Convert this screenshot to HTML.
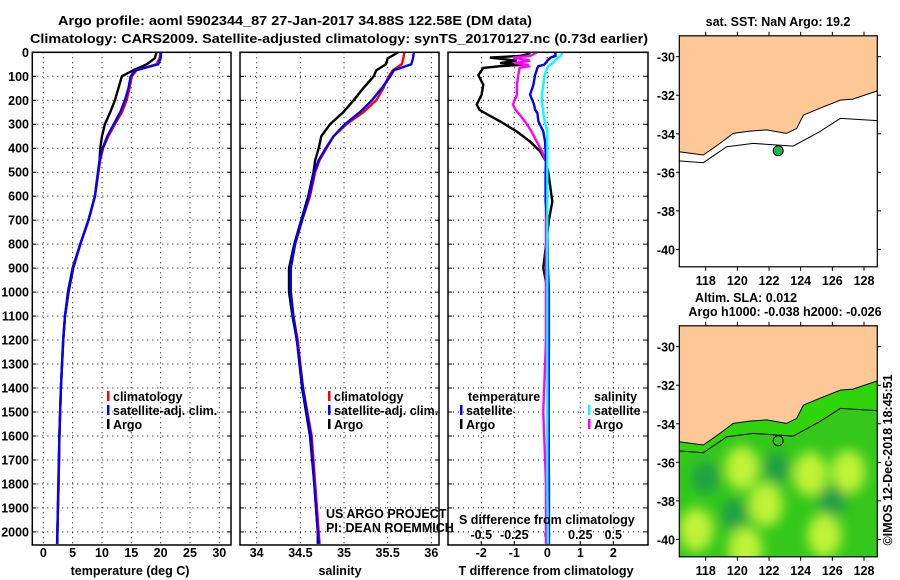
<!DOCTYPE html>
<html><head><meta charset="utf-8"><style>
body{margin:0;background:#fff}
svg{display:block;font-family:"Liberation Sans",sans-serif}
.b{font-weight:bold;font-size:12.5px}
</style></head><body>
<svg id="c" width="900" height="580" viewBox="0 0 900 580" xmlns="http://www.w3.org/2000/svg">
<defs>
<clipPath id="cp1"><rect x="679.3" y="35.7" width="198" height="231"/></clipPath>
<clipPath id="cp2"><rect x="679.3" y="325.7" width="198" height="231"/></clipPath>
<filter id="bl" x="-50%" y="-50%" width="200%" height="200%"><feGaussianBlur stdDeviation="6"/></filter>
</defs>
<text class="b" x="295" y="25" text-anchor="middle" font-size="13.5" textLength="474" lengthAdjust="spacingAndGlyphs">Argo profile: aoml 5902344_87 27-Jan-2017 34.88S 122.58E (DM data)</text>
<text class="b" x="339" y="43" text-anchor="middle" textLength="618" lengthAdjust="spacingAndGlyphs">Climatology: CARS2009. Satellite-adjusted climatology: synTS_20170127.nc (0.73d earlier)</text>
<g id="g"></g>
</svg>
<script>
// ---------- data ----------
const depths=[0,25,50,75,100,150,200,250,300,350,400,450,500,600,700,800,900,1000,1100,1200,1400,1600,1800,2000,2050];
const tempClim=[20.0,19.8,19.3,15.9,15.1,14.7,14.2,13.4,12.2,11.1,10.2,9.7,9.4,8.8,7.7,6.3,5.1,4.3,3.7,3.4,3.0,2.75,2.6,2.4,2.35];
const tempSat=[20.1,20.0,19.6,15.7,14.9,14.5,13.9,13.1,12.0,10.9,10.1,9.6,9.3,8.8,7.7,6.3,5.1,4.3,3.7,3.4,3.0,2.75,2.55,2.4,2.35];
const tempArgo=[19.3,19.0,17.6,15.3,13.4,12.8,12.2,11.4,10.5,10.0,9.7,9.6,9.4,8.8,7.7,6.3,5.0,4.2,3.7,3.4,3.0,2.75,2.6,2.4,2.4];
const salClim=[35.69,35.68,35.66,35.56,35.51,35.45,35.37,35.22,35.03,34.88,34.80,34.72,34.67,34.61,34.52,34.44,34.39,34.39,34.42,34.47,34.53,34.63,34.67,34.71,34.72];
const salSat=[35.80,35.79,35.77,35.57,35.53,35.43,35.32,35.18,35.01,34.88,34.79,34.71,34.66,34.60,34.52,34.44,34.39,34.39,34.42,34.46,34.53,34.62,34.66,34.70,34.71];
const salArgo=[35.62,35.5,35.48,35.37,35.34,35.22,35.11,34.99,34.84,34.74,34.71,34.67,34.65,34.59,34.51,34.43,34.37,34.37,34.41,34.46,34.52,34.61,34.66,34.70,34.70];
const diffDepths=[0,7,15,22,35,45,52,58,65,95,135,177,218,240,253,288,330,372,413,455,500,622,700,900,1000,1200,1500,1800,2050];
const tDiffArgo=[-0.52,-0.57,-0.83,-1.74,-0.93,-1.43,-0.73,-1.43,-1.94,-2.09,-1.94,-1.99,-2.14,-2.05,-1.89,-1.43,-0.93,-0.52,-0.22,-0.04,0.03,0.15,0.05,-0.12,0.02,0.05,0.04,0.05,0.05];
const sDiffArgo=[-0.08,-0.1,-0.13,-0.26,-0.13,-0.25,-0.15,-0.14,-0.21,-0.22,-0.23,-0.23,-0.26,-0.24,-0.22,-0.17,-0.12,-0.08,-0.04,-0.01,-0.01,-0.01,-0.01,-0.01,-0.01,-0.01,-0.03,-0.01,-0.01];
const tDiffSat=[0.23,0.25,0.25,0.1,0.0,-0.05,-0.1,-0.27,-0.3,-0.37,-0.42,-0.52,-0.4,-0.37,-0.3,-0.27,-0.12,-0.07,-0.05,-0.04,-0.05,-0.05,0.0,0.02,0.05,0.05,0.03,0.05,0.05];
const sDiffSat=[0.12,0.11,0.1,0.08,0.06,0.04,0.02,0.01,0.0,-0.02,-0.03,-0.04,-0.04,-0.03,-0.03,-0.02,0.0,0.0,0.0,0.0,0.0,0.0,0.0,0.0,0.0,0.0,0.0,0.0,0.005];
const depthTicks=[0,100,200,300,400,500,600,700,800,900,1000,1100,1200,1300,1400,1500,1600,1700,1800,1900,2000];
const tempTicks=[0,5,10,15,20,25,30];
const salTicks=[34,34.5,35,35.5,36];
const salTickLabels=["34","34.5","35","35.5","36"];
const tDiffTicks=[-2,-1,0,1,2];
const sDiffTicks=[-0.5,-0.25,0,0.25,0.5];
const sDiffTickLabels=["-0.5","-0.25","0","0.25","0.5"];
const lonTicks=[118,120,122,124,126,128];
const latTicks=[-30,-32,-34,-36,-38,-40];
const coastLon=[116.3,117.85,118.9,119.74,120.8,121.85,123.1,123.75,124.17,125.2,126.5,127.3,128.9];
const coastLat=[-34.93,-35.1,-34.5,-33.98,-33.86,-33.8,-33.98,-33.72,-33.03,-32.68,-32.25,-32.2,-31.76];
const isoLon=[116.3,117.85,119.33,121.0,123.53,125.2,126.5,128.9];
const isoLat=[-35.4,-35.5,-34.67,-34.5,-34.64,-33.89,-33.2,-33.32];
const floatLon=122.58, floatLat=-34.88;
const blobLon=[120.3,124.6,127.0,117.4,121.8,125.5,120.5,122.5,119.8,126.0,118.0];
const blobLat=[-36.3,-36.6,-36.5,-39.5,-38.2,-39.8,-40.5,-36.3,-38.7,-38.0,-36.8];
const blobKind=[1,1,1,1,1,1,1,0,0,0,0];

// ---------- axes ----------
const py=d=>52.3+d*0.2398;
const px1=t=>43.3+t*5.867;
const px2=s=>256.7+(s-34)*87.33;
const px3=v=>547.3+v*33;
const px3s=v=>547.3+v*132;
const mx=l=>705.7+(l-118)*15.83;
const my=(lat,off)=>off+(-30-lat)*19.27;

const g=document.getElementById('g');
const NS="http://www.w3.org/2000/svg";
function mk(tag,at,parent){const e=document.createElementNS(NS,tag);for(const k in at)e.setAttribute(k,at[k]);(parent||g).appendChild(e);return e;}
function txt(x,y,s,anchor,cls,name){const e=mk('text',{x:x,y:y,'text-anchor':anchor||'start','class':cls||'b'});e.textContent=s;


return e;}

const panels=[[32.3,231],[240,439],[448,648]];
const Y0=52.3,YB=545;
panels.forEach((p,i)=>{
  const pg=mk('g',{});
  
  
  depthTicks.forEach(d=>{
    mk('line',{x1:p[0],x2:p[1],y1:py(d),y2:py(d),stroke:'#000','stroke-width':1,'stroke-dasharray':'1 4'},pg);
    mk('line',{x1:p[0],x2:p[0]+4,y1:py(d),y2:py(d),stroke:'#000'},pg);
    mk('line',{x1:p[1]-4,x2:p[1],y1:py(d),y2:py(d),stroke:'#000'},pg);
  });
});
tempTicks.forEach(t=>{mk('line',{x1:px1(t),x2:px1(t),y1:Y0,y2:YB,stroke:'#000','stroke-dasharray':'1 4'});
 txt(px1(t),557,String(t),'middle','b','temp-tick-label');});
salTicks.forEach((s,i)=>{mk('line',{x1:px2(s),x2:px2(s),y1:Y0,y2:YB,stroke:'#000','stroke-dasharray':'1 4'});
 txt(px2(s),557,salTickLabels[i],'middle','b','salinity-tick-label');});
tDiffTicks.forEach(t=>{mk('line',{x1:px3(t),x2:px3(t),y1:Y0,y2:YB,stroke:'#000','stroke-dasharray':'1 4'});
 mk('line',{x1:px3(t),x2:px3(t),y1:YB-4,y2:YB,stroke:'#000'});
 txt(px3(t),557,String(t),'middle','b','tdiff-tick-label');});
sDiffTicks.forEach((s,i)=>{txt(px3s(s),539,sDiffTickLabels[i],'middle','b','sdiff-tick-label');});
depthTicks.forEach(d=>{txt(29,py(d)+4.5,String(d),'end','b','depth-tick-label');});

function line(xs,ys,fx,color,name,w){
  const pts=xs.map((v,i)=>fx(v).toFixed(1)+','+py(ys[i]).toFixed(1)).join(' ');
  const e=mk('polyline',{points:pts,fill:'none',stroke:color,'stroke-width':w||2.4,'stroke-linejoin':'miter'});
  
  
}
line(tempArgo,depths,px1,'#000','temp-argo-line');
line(tempClim,depths,px1,'#f00','temp-climatology-line');
line(tempSat,depths,px1,'#00f','temp-satellite-line');
line(salArgo,depths,px2,'#000','salinity-argo-line');
line(salClim,depths,px2,'#f00','salinity-climatology-line');
line(salSat,depths,px2,'#00f','salinity-satellite-line');
line(tDiffArgo,diffDepths,px3,'#000','tdiff-argo-line');
line(sDiffArgo,diffDepths,px3s,'#f0f','sdiff-argo-line');
line(tDiffSat,diffDepths,px3,'#00f','tdiff-satellite-line');
line(sDiffSat,diffDepths,px3s,'#0ff','sdiff-satellite-line');

panels.forEach((p,i)=>{const r=mk('rect',{x:p[0],y:Y0,width:p[1]-p[0],height:YB-Y0,fill:'none',stroke:'#000','stroke-width':1.5});
 
 });

function leg(x,y,color,label,name){mk('rect',{x:x,y:y-10,width:2.5,height:10,fill:color});txt(x+6,y,label,'start','b',name);}
leg(107,401,'#f00','climatology','legend-entry-climatology');
leg(107,415,'#00f','satellite-adj. clim.','legend-entry-satellite');
leg(107,429,'#000','Argo','legend-entry-argo');
leg(328,401,'#f00','climatology','legend-entry-climatology-2');
leg(328,415,'#00f','satellite-adj. clim.','legend-entry-satellite-2');
leg(328,429,'#000','Argo','legend-entry-argo-2');
txt(468,401,'temperature','start','b','legend-temperature-header');
leg(460,415,'#00f','satellite','legend-temp-satellite');
leg(460,429,'#000','Argo','legend-temp-argo');
txt(594,401,'salinity','start','b','legend-salinity-header');
leg(588,415,'#0ff','satellite','legend-sal-satellite');
leg(588,429,'#f0f','Argo','legend-sal-argo');
const t1=txt(326,518,'US ARGO PROJECT','start','','credit-line-1');t1.setAttribute('font-size','12');
const t2=txt(326,532,'PI: DEAN ROEMMICH','start','','credit-line-2');t2.setAttribute('font-size','12');
txt(459,524,'S difference from climatology','start','b','sdiff-axis-title');
txt(130,575,'temperature (deg C)','middle','b','x-axis-title-temperature');
txt(340,575,'salinity','middle','b','x-axis-title-salinity');
txt(546,575,'T difference from climatology','middle','b','x-axis-title-tdiff');

function map(off,clip,green,name){
  const mg=mk('g',{'clip-path':'url(#'+clip+')'});
  
  
  const top=off-20.9;
  if(green){
    mk('rect',{x:679,y:top,width:199,height:231,fill:'#33c81a'},mg);
    const bg=mk('g',{filter:'url(#bl)'},mg);
    blobLon.forEach((l,i)=>{mk('ellipse',{cx:mx(l),cy:my(blobLat[i],off),rx:blobKind[i]?17:14,ry:blobKind[i]?22:16,fill:blobKind[i]?'#c8f43a':'#1f9f4a',opacity:0.95},bg);});
    const shelf=coastLon.map((l,i)=>mx(l)+','+my(coastLat[i],off)).concat(isoLon.slice().reverse().map((l,j)=>{const i=isoLon.length-1-j;return mx(l)+','+my(isoLat[i],off);}));
    mk('polygon',{points:shelf.join(' '),fill:'#2fd40a'},mg);
  } else mk('rect',{x:679,y:top,width:199,height:231,fill:'#fff'},mg);
  const land=coastLon.map((l,i)=>mx(l).toFixed(1)+','+my(coastLat[i],off).toFixed(1));
  land.push('880,'+(top-5),'676,'+(top-5));
  mk('polygon',{points:land.join(' '),fill:'#fdc896',stroke:'#000','stroke-width':1},mg);
  mk('polyline',{points:isoLon.map((l,i)=>mx(l).toFixed(1)+','+my(isoLat[i],off).toFixed(1)).join(' '),fill:'none',stroke:'#000','stroke-width':1},mg);
  const dot=mk('circle',{cx:mx(floatLon),cy:my(floatLat,off),r:5,fill:green?'none':'#1db84a',stroke:'#000','stroke-width':1});
  
  
  mk('rect',{x:679.3,y:top,width:198,height:231,fill:'none',stroke:'#000','stroke-width':1.2});
  lonTicks.forEach(l=>{mk('line',{x1:mx(l),x2:mx(l),y1:top,y2:top-4,stroke:'#000'});mk('line',{x1:mx(l),x2:mx(l),y1:top+231,y2:top+235,stroke:'#000'});
    txt(mx(l),top+249,String(l),'middle','b','map-lon-label');});
  latTicks.forEach(a=>{mk('line',{x1:877.3,x2:881,y1:my(a,off),y2:my(a,off),stroke:'#000'});mk('line',{x1:676,x2:679.3,y1:my(a,off),y2:my(a,off),stroke:'#000'});
    txt(675,my(a,off)+5,String(a),'end','b','map-lat-label');});
}
map(56.7,'cp1',false,'sst-map');
map(346.7,'cp2',true,'sla-map');
txt(778,26,'sat. SST: NaN Argo: 19.2','middle','b','sst-map-title');
txt(746,302,'Altim. SLA: 0.012','middle','b','sla-map-title');
txt(785,316,'Argo h1000: -0.038 h2000: -0.026','middle','b','sla-map-subtitle');
const im=txt(0,0,'©IMOS 12-Dec-2018 18:45:51','middle','','imos-timestamp');
im.setAttribute('font-size','12');
im.setAttribute('transform','translate(892,460) rotate(-90)');
</script>
</body></html>
